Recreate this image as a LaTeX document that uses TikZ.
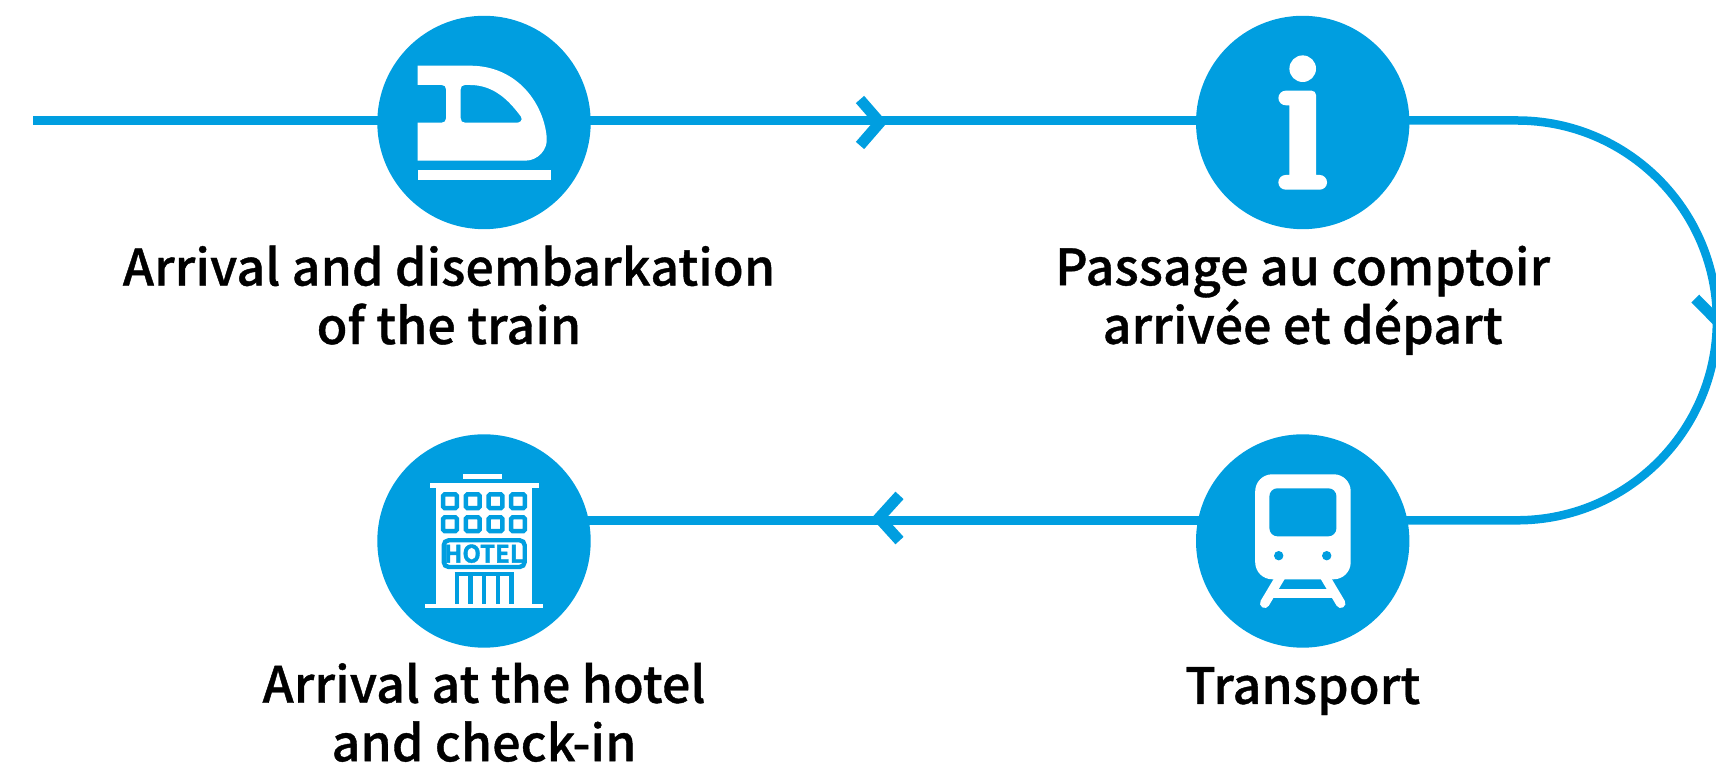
\documentclass[tikz,border=0pt]{standalone}
\usepackage{fontspec}
\newfontfamily\labelfont[FakeBold=0.8,LetterSpace=0.4]{Noto Sans CJK JP Medium}
\newfontfamily\signfont[FakeBold=1.6]{Noto Sans CJK JP Bold}
\usepackage{xcolor}
\usetikzlibrary{positioning}
\definecolor{railblue}{HTML}{009EE0}
\tikzstyle{rail} = [line width=8.5pt,color=railblue]
\tikzstyle{tick} = [line width=11pt,color=railblue,miter limit=10]
\tikzstyle{stopdot} = [circle, minimum size=213.4pt, inner sep=0pt, outer sep=0pt, fill=railblue]
\tikzstyle{stoplabel} = [inner sep=0pt, align=center, font=\labelfont\fontsize{50}{58.5}\selectfont, execute at begin node=\strut]
\tikzstyle{iconfill} = [fill=white, draw=none]
\tikzstyle{iconline} = [draw=railblue, line width=4.4pt]

\begin{document}
\begin{tikzpicture}[x=1pt,y=1pt]
\useasboundingbox (0,0) rectangle (1716,767);
\clip (0,0) rectangle (1716,767);
% Stops
\node[stopdot] (train) at (484,644.5) {};
\node[stopdot, right=605.3pt of train] (info) {};
\node[stopdot, below=205.1pt of info] (transport) {};
\node[stopdot, below=205.1pt of train] (hotel) {};
% Labels
\node[stoplabel, below=16.3pt of train, xshift=-35pt] (trainlabel) {Arrival and disembarkation\\of the train};
\node[stoplabel, below=16.3pt of info] (infolabel) {Passage au comptoir\\arrivée et départ};
\node[stoplabel, below=15pt of transport] (transportlabel) {Transport};
\node[stoplabel, below=15pt of hotel] (hotellabel) {Arrival at the hotel\\and check-in};
% Rail
\coordinate (railstart) at (33,646.5);
\coordinate (bendtop) at (1517,646.5);
\coordinate (bendbottom) at (1517,246.7);
\coordinate (tipa) at (880,644.5);
\coordinate (tipb) at (1716.7,446.7);
\coordinate (tipc) at (879,249);
\draw[rail] (railstart) -- (train |- railstart);
\draw[rail] (train |- railstart) -- (info |- railstart);
\draw[rail] (info |- railstart) -- (bendtop) arc[start angle=90, end angle=-90, radius=199.9] -- (transport |- bendbottom);
\draw[rail] (transport |- bendbottom) -- (hotel |- bendbottom);
% Ticks on the rail
\draw[tick] (tipa) ++(-20,23) -- (tipa) -- ++(-20,-23);
\draw[tick] (tipb) ++(-21.4,21.7) -- (tipb) -- ++(21.4,21.7);
\draw[tick] (tipc) ++(20.5,22.6) -- (tipc) -- ++(20.5,-22.6);
% Train icon
\begin{scope}[shift={(train.center)}]
\path[iconfill, even odd rule] (-66.3,56.8) -- (-14,56.8) .. controls (34,56.8) and (60,18) .. (62.7,-15)
  .. controls (64,-27) and (54,-38.2) .. (41,-38.2) -- (-66.3,-38.2) -- (-66.3,-0.2) -- (-42.3,-0.2)
  .. controls (-39.5,-0.2) and (-38,1.5) .. (-38,4.2) -- (-38,33.2)
  .. controls (-38,36) and (-39.5,37.5) .. (-42.3,37.5) -- (-66.3,37.5) -- cycle
  (-19,37.5) -- (-14,37.5) .. controls (10,37.5) and (25,22) .. (37,5.8)
  .. controls (39,2) and (36,-0.2) .. (32.7,-0.2) -- (-19,-0.2)
  .. controls (-21.8,-0.2) and (-23.3,1.5) .. (-23.3,4.2) -- (-23.3,33.2)
  .. controls (-23.3,36) and (-21.8,37.5) .. (-19,37.5) -- cycle;
\path[iconfill] (-66.3,-47.5) rectangle (67,-57.5);
\end{scope}
% Info icon
\begin{scope}[shift={(info.center)}]
\path[iconfill] (0,53.8) circle[radius=13.3];
\path[iconfill] (-17,31.8) -- (9,31.8) arc[start angle=90, end angle=0, radius=4.3] -- (13.3,-52.5) -- (17,-52.5)
  arc[start angle=90, end angle=-90, radius=7.35] -- (-17,-67.2) arc[start angle=270, end angle=90, radius=7.35]
  -- (-13.3,-52.5) -- (-13.3,17.2) -- (-17,17.2) arc[start angle=270, end angle=90, radius=7.3] -- cycle;
\end{scope}
% Transport icon
\begin{scope}[shift={(transport.center)}]
\draw[white, line width=9.5pt, line cap=round] (-21.5,-34.6) -- (-38,-62.3);
\draw[white, line width=9.5pt, line cap=round] (21.5,-34.6) -- (38,-62.3);
\path[iconfill] (-31,-48) rectangle (31,-57.3);
\path[iconfill, rounded corners=17pt] (-47.5,66.7) rectangle (48,-38.3);
\path[fill=railblue, rounded corners=8pt] (-33.3,52.7) rectangle (33.7,4.7);
\foreach \lampx in {-24,24}
  \path[fill=railblue] (\lampx,-14.7) circle[radius=4.7];
\end{scope}
% Hotel icon
\begin{scope}[shift={(hotel.center)}]
\path[iconfill] (-21,67) rectangle (18,61.7);
\path[iconfill] (-54.3,57.7) rectangle (54.7,53);
\path[iconfill] (-47.7,53) rectangle (48,-62.7);
\path[iconfill] (-59,-62.7) rectangle (59,-67.3);
\foreach \winx in {-34,-11.3,11.5,34}
  \foreach \winy in {39.7,16.8}
    \draw[iconline, rounded corners=1.5pt] (\winx-6.9,\winy-6.9) rectangle (\winx+6.9,\winy+6.9);
\draw[iconline, rounded corners=5pt] (-40.3,0.7) rectangle (40.7,-26);
\node[inner sep=0pt, text=railblue, font=\signfont\fontsize{24}{24}\selectfont] (sign) at (0,-12.7) {HOTEL};
\foreach \doorx in {-27.3,-13.7,0,13.7,27.3}
  \draw[iconline] (\doorx,-33) -- (\doorx,-62.7);
\draw[iconline] (-29.5,-33) -- (29.5,-33);
\end{scope}
\end{tikzpicture}
\end{document}
